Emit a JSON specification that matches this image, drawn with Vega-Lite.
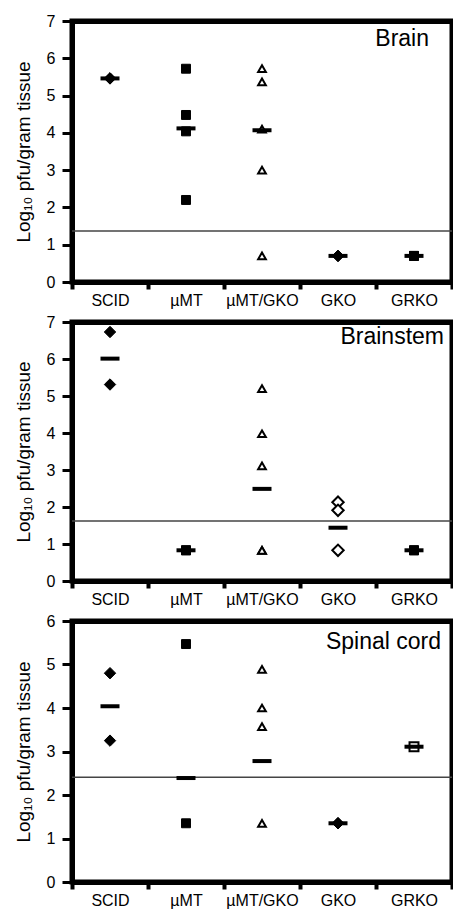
{
  "$schema": "https://vega.github.io/schema/vega-lite/v6.json",
  "background": "white",
  "padding": {"left": 11, "top": 10, "right": 0, "bottom": 0},
  "spacing": 0,
  "datasets": {
    "points": [
      {"panel": "Brain", "group": "SCID", "value": 5.46},
      {"panel": "Brain", "group": "SCID", "value": 5.46},
      {"panel": "Brain", "group": "µMT", "value": 5.72},
      {"panel": "Brain", "group": "µMT", "value": 4.48},
      {"panel": "Brain", "group": "µMT", "value": 4.04},
      {"panel": "Brain", "group": "µMT", "value": 2.2},
      {"panel": "Brain", "group": "µMT/GKO", "value": 5.72},
      {"panel": "Brain", "group": "µMT/GKO", "value": 5.37},
      {"panel": "Brain", "group": "µMT/GKO", "value": 4.1},
      {"panel": "Brain", "group": "µMT/GKO", "value": 3.0},
      {"panel": "Brain", "group": "µMT/GKO", "value": 0.7},
      {"panel": "Brain", "group": "GKO", "value": 0.7},
      {"panel": "Brain", "group": "GKO", "value": 0.7},
      {"panel": "Brain", "group": "GRKO", "value": 0.7},
      {"panel": "Brain", "group": "GRKO", "value": 0.7},
      {"panel": "Brainstem", "group": "SCID", "value": 6.73},
      {"panel": "Brainstem", "group": "SCID", "value": 5.31},
      {"panel": "Brainstem", "group": "µMT", "value": 0.83},
      {"panel": "Brainstem", "group": "µMT", "value": 0.83},
      {"panel": "Brainstem", "group": "µMT/GKO", "value": 5.2},
      {"panel": "Brainstem", "group": "µMT/GKO", "value": 3.98},
      {"panel": "Brainstem", "group": "µMT/GKO", "value": 3.11},
      {"panel": "Brainstem", "group": "µMT/GKO", "value": 0.83},
      {"panel": "Brainstem", "group": "µMT/GKO", "value": 0.83},
      {"panel": "Brainstem", "group": "GKO", "value": 2.13},
      {"panel": "Brainstem", "group": "GKO", "value": 1.91},
      {"panel": "Brainstem", "group": "GKO", "value": 0.83},
      {"panel": "Brainstem", "group": "GRKO", "value": 0.83},
      {"panel": "Brainstem", "group": "GRKO", "value": 0.83},
      {"panel": "Spinal cord", "group": "SCID", "value": 4.8},
      {"panel": "Spinal cord", "group": "SCID", "value": 3.25},
      {"panel": "Spinal cord", "group": "µMT", "value": 5.47},
      {"panel": "Spinal cord", "group": "µMT", "value": 1.35},
      {"panel": "Spinal cord", "group": "µMT/GKO", "value": 4.89},
      {"panel": "Spinal cord", "group": "µMT/GKO", "value": 4.0},
      {"panel": "Spinal cord", "group": "µMT/GKO", "value": 3.57},
      {"panel": "Spinal cord", "group": "µMT/GKO", "value": 1.35},
      {"panel": "Spinal cord", "group": "GKO", "value": 1.35},
      {"panel": "Spinal cord", "group": "GKO", "value": 1.35},
      {"panel": "Spinal cord", "group": "GRKO", "value": 3.11}
    ],
    "means": [
      {"panel": "Brain", "group": "SCID", "value": 5.46},
      {"panel": "Brain", "group": "µMT", "value": 4.12},
      {"panel": "Brain", "group": "µMT/GKO", "value": 4.07},
      {"panel": "Brain", "group": "GKO", "value": 0.7},
      {"panel": "Brain", "group": "GRKO", "value": 0.7},
      {"panel": "Brainstem", "group": "SCID", "value": 6.01},
      {"panel": "Brainstem", "group": "µMT", "value": 0.83},
      {"panel": "Brainstem", "group": "µMT/GKO", "value": 2.49},
      {"panel": "Brainstem", "group": "GKO", "value": 1.44},
      {"panel": "Brainstem", "group": "GRKO", "value": 0.83},
      {"panel": "Spinal cord", "group": "SCID", "value": 4.04},
      {"panel": "Spinal cord", "group": "µMT", "value": 2.39},
      {"panel": "Spinal cord", "group": "µMT/GKO", "value": 2.78},
      {"panel": "Spinal cord", "group": "GKO", "value": 1.35},
      {"panel": "Spinal cord", "group": "GRKO", "value": 3.11}
    ],
    "limits": [
      {"panel": "Brain", "value": 1.37},
      {"panel": "Brainstem", "value": 1.62},
      {"panel": "Spinal cord", "value": 2.41}
    ]
  },
  "config": {
    "view": {"stroke": "black", "strokeWidth": 5},
    "font": "Liberation Sans",
    "axis": {
      "labelFont": "Liberation Sans", "labelFontSize": 16, "labelColor": "black",
      "titleFont": "Liberation Sans", "titleFontSize": 19, "titleFontWeight": "normal", "titleColor": "black",
      "domainColor": "black", "domainWidth": 5, "tickColor": "black", "grid": false
    },
    "axisY": {"tickSize": 10, "tickWidth": 3, "labelPadding": 7, "titlePadding": 13, "labelOverlap": false},
    "axisX": {"tickSize": 7, "tickWidth": 4, "tickBand": "extent", "labelAngle": 0, "labelPadding": 3},
    "title": {"font": "Liberation Sans", "fontSize": 23, "fontWeight": "normal", "color": "black", "anchor": "end", "frame": "group", "baseline": "alphabetic", "offset": 0}
  },
  "vconcat": [
    {
      "width": 380, "height": 261,
      "view": {"stroke": "black", "strokeWidth": 5},
      "title": {"text": "Brain", "dx": -23, "dy": 42},
      "resolve": {"axis": {"x": "independent", "y": "independent"}},
      "layer": [
        {"data": {"name": "limits"}, "transform": [{"filter": "datum.panel === 'Brain'"}],
         "mark": {"type": "rule", "color": "#444", "strokeWidth": 1.5},
         "encoding": {"y": {"field": "value", "type": "quantitative", "scale": {"domain": [0, 7], "nice": false}, "axis": {"orient": "right", "labels": false, "ticks": false, "title": null, "domainWidth": 5, "domainColor": "black"}}}},
        {"data": {"name": "points"}, "transform": [{"filter": "datum.panel === 'Brain'"}],
         "mark": {"type": "point", "filled": true, "stroke": "black", "opacity": 1},
         "encoding": {
           "x": {"field": "group", "type": "nominal", "sort": null, "scale": {"domain": ["SCID", "µMT", "µMT/GKO", "GKO", "GRKO"], "paddingInner": 0, "paddingOuter": 0}, "axis": {"title": null, "domainWidth": 5, "labelFontSize": 16}},
           "y": {"field": "value", "type": "quantitative", "axis": {"values": [0,1,2,3,4,5,6,7], "tickCount": 8, "title": "Log₁₀ pfu/gram tissue", "domainWidth": 5, "labelFontSize": 16, "labelOverlap": false}},
           "shape": {"field": "group", "type": "nominal", "scale": {"domain": ["SCID", "µMT", "µMT/GKO", "GKO", "GRKO"], "range": ["diamond", "square", "triangle-up", "diamond", "square"]}, "legend": null},
           "fill": {"condition": {"test": "datum.group === 'µMT/GKO' || (datum.panel === 'Brainstem' && datum.group === 'GKO') || (datum.panel === 'Spinal cord' && datum.group === 'GRKO')", "value": "white"}, "value": "black"},
           "size": {"condition": [{"test": "datum.group === 'µMT/GKO'", "value": 60}, {"test": "datum.group === 'µMT' || datum.group === 'GRKO'", "value": 80}], "value": 130},
           "strokeWidth": {"condition": {"test": "datum.group === 'µMT/GKO' || (datum.panel === 'Brainstem' && datum.group === 'GKO') || (datum.panel === 'Spinal cord' && datum.group === 'GRKO')", "value": 2}, "value": 1}
         }},
        {"data": {"name": "means"}, "transform": [{"filter": "datum.panel === 'Brain'"}],
         "mark": {"type": "tick", "orient": "horizontal", "size": 19, "thickness": 4, "color": "black", "opacity": 1},
         "encoding": {"x": {"field": "group", "type": "nominal", "axis": {"orient": "top", "labels": false, "ticks": false, "title": null, "domainWidth": 5, "domainColor": "black"}}, "y": {"field": "value", "type": "quantitative", "axis": null}}}
      ]
    },
    {
      "width": 380, "height": 259,
      "view": {"stroke": "black", "strokeWidth": 5},
      "title": {"text": "Brainstem", "dx": -8, "dy": 39},
      "resolve": {"axis": {"x": "independent", "y": "independent"}},
      "layer": [
        {"data": {"name": "limits"}, "transform": [{"filter": "datum.panel === 'Brainstem'"}],
         "mark": {"type": "rule", "color": "#444", "strokeWidth": 1.5},
         "encoding": {"y": {"field": "value", "type": "quantitative", "scale": {"domain": [0, 7], "nice": false}, "axis": {"orient": "right", "labels": false, "ticks": false, "title": null, "domainWidth": 5, "domainColor": "black"}}}},
        {"data": {"name": "points"}, "transform": [{"filter": "datum.panel === 'Brainstem'"}],
         "mark": {"type": "point", "filled": true, "stroke": "black", "opacity": 1},
         "encoding": {
           "x": {"field": "group", "type": "nominal", "sort": null, "scale": {"domain": ["SCID", "µMT", "µMT/GKO", "GKO", "GRKO"], "paddingInner": 0, "paddingOuter": 0}, "axis": {"title": null, "domainWidth": 5, "labelFontSize": 16}},
           "y": {"field": "value", "type": "quantitative", "axis": {"values": [0,1,2,3,4,5,6,7], "tickCount": 8, "title": "Log₁₀ pfu/gram tissue", "domainWidth": 5, "labelFontSize": 16, "labelOverlap": false}},
           "shape": {"field": "group", "type": "nominal", "scale": {"domain": ["SCID", "µMT", "µMT/GKO", "GKO", "GRKO"], "range": ["diamond", "square", "triangle-up", "diamond", "square"]}, "legend": null},
           "fill": {"condition": {"test": "datum.group === 'µMT/GKO' || (datum.panel === 'Brainstem' && datum.group === 'GKO') || (datum.panel === 'Spinal cord' && datum.group === 'GRKO')", "value": "white"}, "value": "black"},
           "size": {"condition": [{"test": "datum.group === 'µMT/GKO'", "value": 60}, {"test": "datum.group === 'µMT' || datum.group === 'GRKO'", "value": 80}], "value": 130},
           "strokeWidth": {"condition": {"test": "datum.group === 'µMT/GKO' || (datum.panel === 'Brainstem' && datum.group === 'GKO') || (datum.panel === 'Spinal cord' && datum.group === 'GRKO')", "value": 2}, "value": 1}
         }},
        {"data": {"name": "means"}, "transform": [{"filter": "datum.panel === 'Brainstem'"}],
         "mark": {"type": "tick", "orient": "horizontal", "size": 19, "thickness": 4, "color": "black", "opacity": 1},
         "encoding": {"x": {"field": "group", "type": "nominal", "axis": {"orient": "top", "labels": false, "ticks": false, "title": null, "domainWidth": 5, "domainColor": "black"}}, "y": {"field": "value", "type": "quantitative", "axis": null}}}
      ]
    },
    {
      "width": 380, "height": 261,
      "view": {"stroke": "black", "strokeWidth": 5},
      "title": {"text": "Spinal cord", "dx": -11, "dy": 45},
      "resolve": {"axis": {"x": "independent", "y": "independent"}},
      "layer": [
        {"data": {"name": "limits"}, "transform": [{"filter": "datum.panel === 'Spinal cord'"}],
         "mark": {"type": "rule", "color": "#444", "strokeWidth": 1.5},
         "encoding": {"y": {"field": "value", "type": "quantitative", "scale": {"domain": [0, 6], "nice": false}, "axis": {"orient": "right", "labels": false, "ticks": false, "title": null, "domainWidth": 5, "domainColor": "black"}}}},
        {"data": {"name": "points"}, "transform": [{"filter": "datum.panel === 'Spinal cord'"}],
         "mark": {"type": "point", "filled": true, "stroke": "black", "opacity": 1},
         "encoding": {
           "x": {"field": "group", "type": "nominal", "sort": null, "scale": {"domain": ["SCID", "µMT", "µMT/GKO", "GKO", "GRKO"], "paddingInner": 0, "paddingOuter": 0}, "axis": {"title": null, "domainWidth": 5, "labelFontSize": 16}},
           "y": {"field": "value", "type": "quantitative", "axis": {"values": [0,1,2,3,4,5,6], "tickCount": 7, "title": "Log₁₀ pfu/gram tissue", "domainWidth": 5, "labelFontSize": 16, "labelOverlap": false}},
           "shape": {"field": "group", "type": "nominal", "scale": {"domain": ["SCID", "µMT", "µMT/GKO", "GKO", "GRKO"], "range": ["diamond", "square", "triangle-up", "diamond", "square"]}, "legend": null},
           "fill": {"condition": {"test": "datum.group === 'µMT/GKO' || (datum.panel === 'Brainstem' && datum.group === 'GKO') || (datum.panel === 'Spinal cord' && datum.group === 'GRKO')", "value": "white"}, "value": "black"},
           "size": {"condition": [{"test": "datum.group === 'µMT/GKO'", "value": 60}, {"test": "datum.group === 'µMT' || datum.group === 'GRKO'", "value": 80}], "value": 130},
           "strokeWidth": {"condition": {"test": "datum.group === 'µMT/GKO' || (datum.panel === 'Brainstem' && datum.group === 'GKO') || (datum.panel === 'Spinal cord' && datum.group === 'GRKO')", "value": 2}, "value": 1}
         }},
        {"data": {"name": "means"}, "transform": [{"filter": "datum.panel === 'Spinal cord'"}],
         "mark": {"type": "tick", "orient": "horizontal", "size": 19, "thickness": 4, "color": "black", "opacity": 1},
         "encoding": {"x": {"field": "group", "type": "nominal", "axis": {"orient": "top", "labels": false, "ticks": false, "title": null, "domainWidth": 5, "domainColor": "black"}}, "y": {"field": "value", "type": "quantitative", "axis": null}}}
      ]
    }
  ]
}
